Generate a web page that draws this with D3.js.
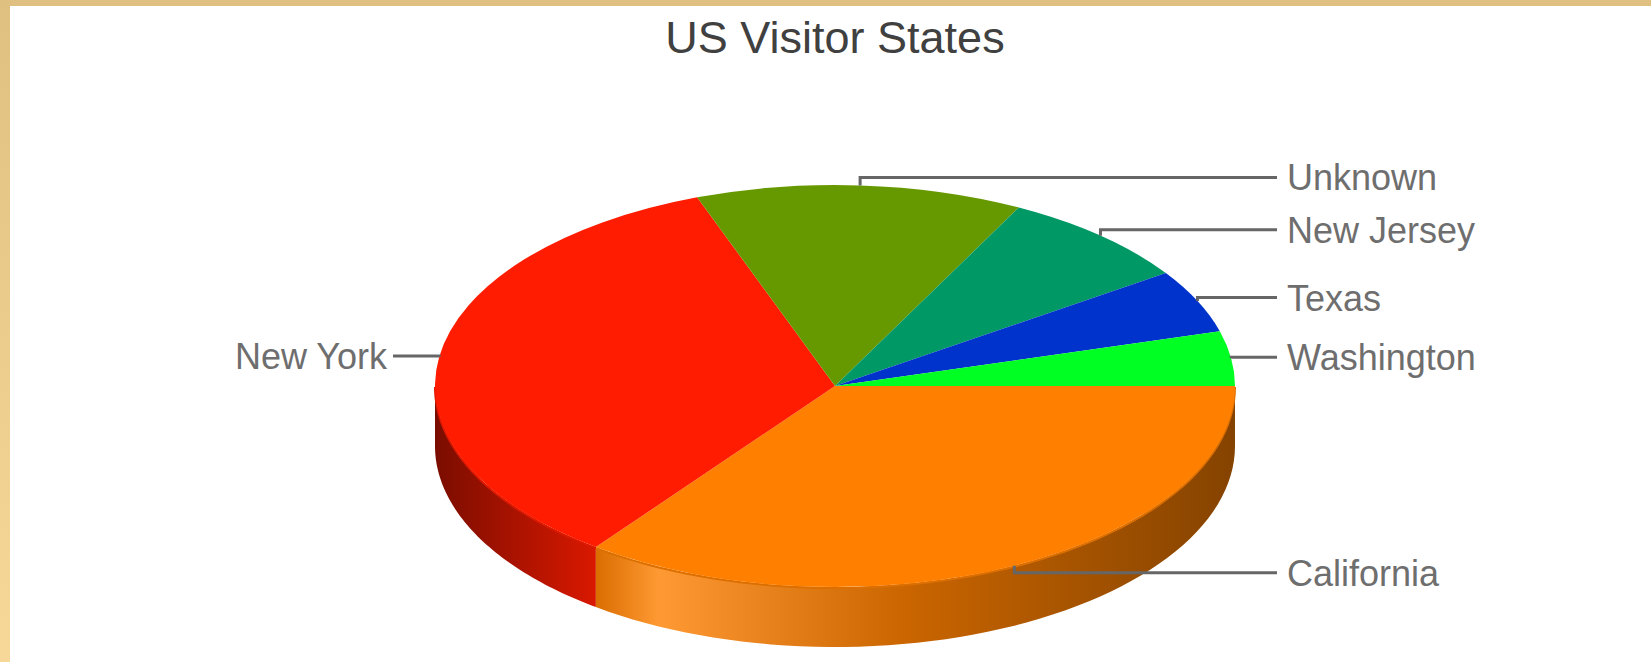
<!DOCTYPE html>
<html>
<head>
<meta charset="utf-8">
<script src="https://cdn.jsdelivr.net/npm/d3@7"></script>
<style>
  body { margin: 0; background: #fff; }
  svg { display: block; }
</style>
</head>
<body>
<div id="chart"></div>
<script>
// Data (share of visitors, %)
var states = ["California", "New York", "Unknown", "New Jersey", "Texas", "Washington"];
var shares = [35.2, 34.2, 13.2, 7.9, 5.1, 4.4];
var colours = ["#ff8000", "#ff1c00", "#669900", "#009966", "#0033cc", "#00ff22"];
var title = "US Visitor States";

function init() {

    var w = 1651;
    var h = 662;

    // ellipse of the pie top
    var cx = 835, cy = 386;
    var rx = 400, ry = 201;
    var depth = 60;
    var k = ry / rx;

    var svg = d3.select("#chart")
                .append("svg")
                .attr("width", w)
                .attr("height", h);

    // frame round the page (top and left strips)
    var defs = svg.append("defs");
    var frame = defs.append("linearGradient")
                .attr("id", "frame")
                .attr("x1", 0).attr("y1", 0)
                .attr("x2", 0).attr("y2", 1);
    frame.append("stop").attr("offset", "0%").attr("stop-color", "#e0c080");
    frame.append("stop").attr("offset", "100%").attr("stop-color", "#f8d898");

    svg.append("rect").attr("width", w).attr("height", h).attr("fill", "#fff");
    svg.append("rect").attr("x", 0).attr("y", 0).attr("width", w).attr("height", 6).attr("fill", "#e0c080");
    svg.append("rect").attr("x", 0).attr("y", 0).attr("width", 10).attr("height", h).attr("fill", "url(#frame)");

    // title
    svg.append("text")
        .attr("x", cx)
        .attr("y", 53)
        .attr("text-anchor", "middle")
        .style("font-family", "'Liberation Sans', Arial, sans-serif")
        .style("font-size", "45px")
        .style("fill", "#404040")
        .text(title);

    var pie = d3.pie()
                .sort(null)
                .startAngle(Math.PI / 2)
                .endAngle(Math.PI / 2 + 2 * Math.PI);

    var arcs = pie(shares);

    // point on the top ellipse for a d3 angle
    function pt(a, dy) {
        return [cx + rx * Math.sin(a), cy - ry * Math.cos(a) + (dy || 0)];
    }

    // shading across the side wall, left to right
    var shade = [[0, 0.48], [0.2, 0.85], [0.28, 1.2], [0.58, 0.8], [0.83, 0.63], [1, 0.52]];

    function tone(c, f) {
        if (f <= 1) return d3.interpolateRgb("#000", c)(f);
        return d3.interpolateRgb(c, "#fff")(f - 1);
    }

    arcs.forEach(function(d, i) {
        var g = defs.append("linearGradient")
                .attr("id", "side" + i)
                .attr("gradientUnits", "userSpaceOnUse")
                .attr("x1", cx - rx).attr("y1", 0)
                .attr("x2", cx + rx).attr("y2", 0);
        shade.forEach(function(s) {
            g.append("stop")
                .attr("offset", s[0])
                .attr("stop-color", tone(colours[i], s[1]));
        });
    });

    // side walls (front half only)
    var sides = svg.append("g");
    arcs.forEach(function(d, i) {
        var s = Math.max(d.startAngle, Math.PI / 2);
        var e = Math.min(d.endAngle, 3 * Math.PI / 2);
        if (s >= e) return;
        var n = 60;
        var top = d3.range(n + 1).map(function(j) { return pt(s + (e - s) * j / n); });
        var bottom = d3.range(n + 1).map(function(j) { return pt(e - (e - s) * j / n, depth); });
        sides.append("path")
            .attr("d", d3.line()(top.concat(bottom)) + "Z")
            .attr("fill", "url(#side" + i + ")");
        // darker rim where the top meets the wall
        sides.append("path")
            .attr("d", d3.line()(top.map(function(p) { return [p[0], p[1] + 1]; })))
            .attr("fill", "none")
            .attr("stroke", d3.color(colours[i]).darker(0.4))
            .attr("stroke-width", 2);
    });

    // top faces
    var arc = d3.arc().innerRadius(0).outerRadius(rx);
    svg.append("g")
        .attr("transform", "translate(" + cx + "," + cy + ") scale(1," + k + ")")
        .selectAll("path")
        .data(arcs)
        .enter()
        .append("path")
        .attr("d", arc)
        .attr("fill", function(d, i) { return colours[i]; });

    // labels with leader lines
    var labels = svg.append("g")
                .style("font-family", "'Liberation Sans', Arial, sans-serif")
                .style("font-size", "36px");

    arcs.forEach(function(d, i) {
        var a = (d.startAngle + d.endAngle) / 2;
        var p = pt(a);
        var ly = cy - (ry + 8) * Math.cos(a);
        var right = Math.sin(a) >= 0;
        var lx = right ? 1277 : 393;

        labels.append("path")
            .attr("d", d3.line()([[p[0], p[1]], [p[0], ly], [lx, ly]]))
            .attr("fill", "none")
            .attr("stroke", "#666")
            .attr("stroke-width", 3);

        labels.append("text")
            .attr("x", right ? lx + 10 : lx - 6)
            .attr("y", ly + 13)
            .attr("text-anchor", right ? "start" : "end")
            .style("fill", "#6e6e6e")
            .text(states[i]);
    });
}

window.onload = init;
</script>
</body>
</html>
